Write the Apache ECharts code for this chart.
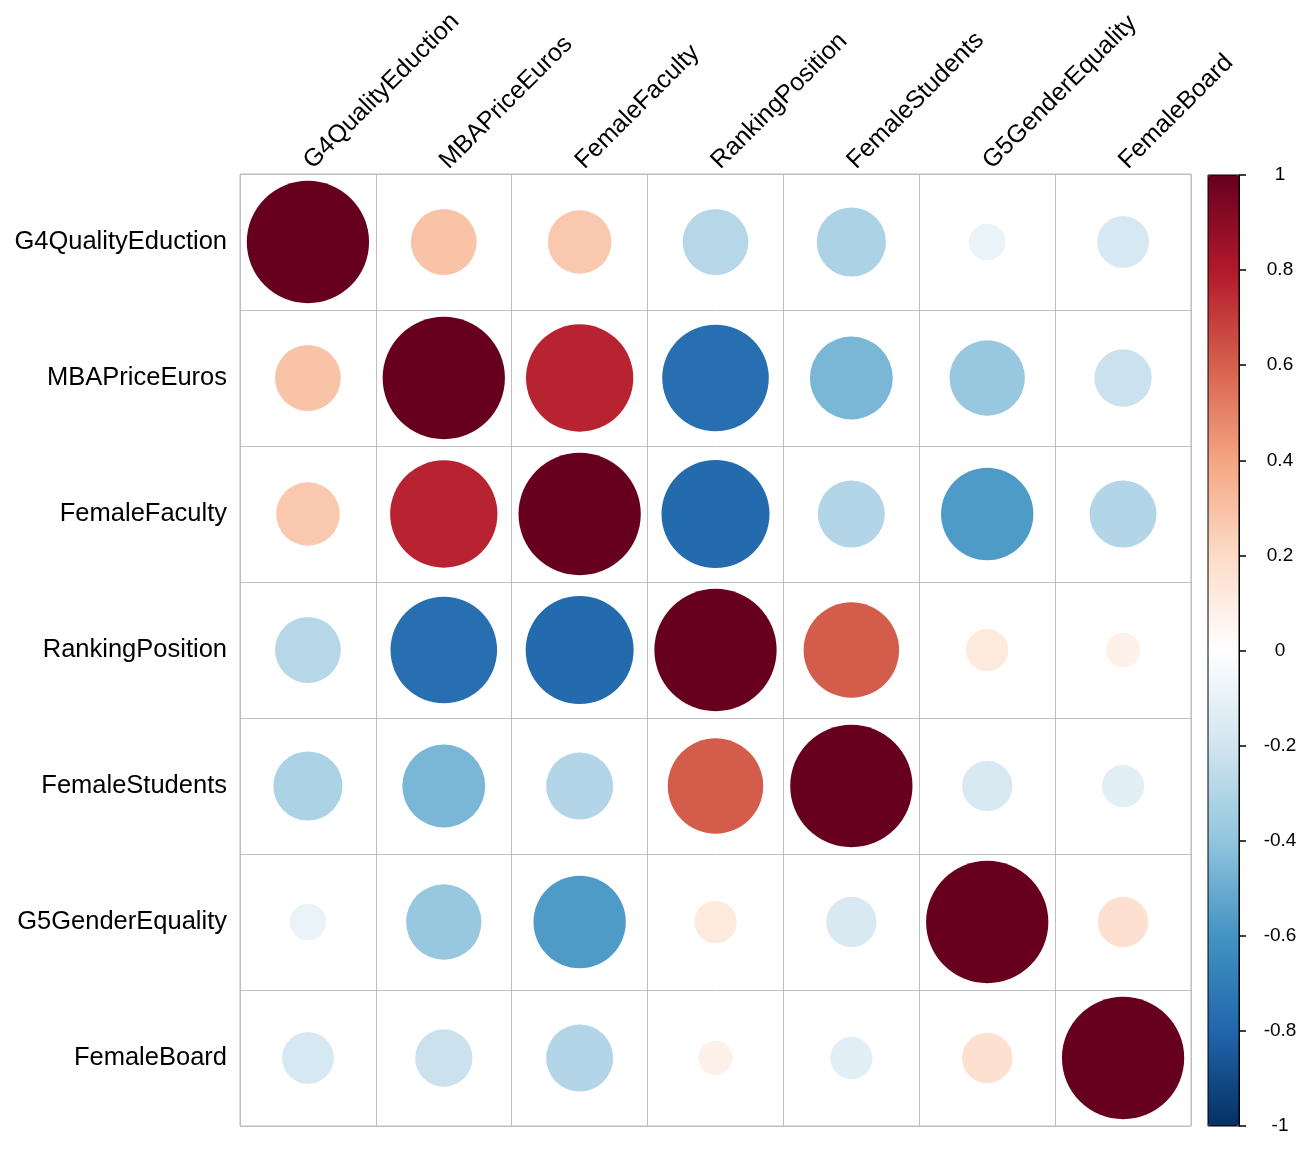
<!DOCTYPE html>
<html>
<head>
<meta charset="utf-8">
<title>Correlation matrix</title>
<script src="https://cdn.jsdelivr.net/npm/echarts@6/dist/echarts.min.js"></script>
<style>
  html, body { margin: 0; padding: 0; background: #fff; }
  #chart { width: 1312px; height: 1164px; }
</style>
</head>
<body>
<div id="chart"></div>
<script>
// Variable names, same order on both axes
const variables = ['G4QualityEduction', 'MBAPriceEuros', 'FemaleFaculty', 'RankingPosition',
  'FemaleStudents', 'G5GenderEquality', 'FemaleBoard'];

// Correlation rows
const rowG4QualityEduction = [1, 0.29, 0.27, -0.29, -0.32, -0.09, -0.18];
const rowMBAPriceEuros     = [0.29, 1, 0.77, -0.76, -0.46, -0.38, -0.22];
const rowFemaleFaculty     = [0.27, 0.77, 1, -0.78, -0.30, -0.57, -0.30];
const rowRankingPosition   = [-0.29, -0.76, -0.78, 1, 0.61, 0.12, 0.08];
const rowFemaleStudents    = [-0.32, -0.46, -0.30, 0.61, 1, -0.17, -0.12];
const rowG5GenderEquality  = [-0.09, -0.38, -0.57, 0.12, -0.17, 1, 0.17];
const rowFemaleBoard       = [-0.18, -0.22, -0.30, 0.08, -0.12, 0.17, 1];

// Colour bar range and step
const scaleMin = -1;
const scaleMax = 1;
const scaleStep = 0.2;

// RdBu palette, -1 -> 1
const palette = ['#053061', '#2166AC', '#4393C3', '#92C5DE', '#D1E5F0', '#FFFFFF',
  '#FDDBC7', '#F4A582', '#D6604D', '#B2182B', '#67001F'];

const rows = [rowG4QualityEduction, rowMBAPriceEuros, rowFemaleFaculty, rowRankingPosition,
  rowFemaleStudents, rowG5GenderEquality, rowFemaleBoard];

const cells = [];
rows.forEach((row, y) => row.forEach((v, x) => cells.push([x, y, v])));

const FONT = '"Liberation Sans", Arial, sans-serif';
const gridLeft = 240, gridTop = 174, gridW = 951, gridH = 952;
const cellSize = gridW / variables.length;

const chart = echarts.init(document.getElementById('chart'), null, { renderer: 'canvas' });

chart.setOption({
  backgroundColor: '#ffffff',
  animation: false,
  grid: [
    {
      left: gridLeft, top: gridTop, width: gridW, height: gridH,
      show: true, borderColor: '#BEBEBE', borderWidth: 1, backgroundColor: 'transparent'
    },
    {
      // colour bar frame + its tick axis
      left: 1208, top: 175, width: 31, height: 951,
      show: true, borderColor: '#000', borderWidth: 1, backgroundColor: 'transparent', z: 10
    }
  ],
  xAxis: [
    {
      type: 'category',
      gridIndex: 0,
      position: 'top',
      data: variables,
      axisLine: { show: false },
      axisTick: { show: false },
      splitLine: { show: true, lineStyle: { color: '#BEBEBE', width: 1 } },
      axisLabel: { rotate: -45, margin: 9, color: '#000', fontSize: 25, fontFamily: FONT, interval: 0 }
    },
    {
      type: 'value', gridIndex: 1, show: false, min: 0, max: 1
    }
  ],
  yAxis: [
    {
      type: 'category',
      gridIndex: 0,
      inverse: true,
      data: variables,
      axisLine: { show: false },
      axisTick: { show: false },
      splitLine: { show: true, lineStyle: { color: '#BEBEBE', width: 1 } },
      axisLabel: { margin: 13, color: '#000', fontSize: 25.5, fontFamily: FONT, interval: 0 }
    },
    {
      type: 'value',
      gridIndex: 1,
      position: 'right',
      min: scaleMin,
      max: scaleMax,
      interval: scaleStep,
      z: 12,
      axisLine: { show: true, onZero: false, lineStyle: { color: '#000', width: 1 } },
      splitLine: { show: false },
      axisTick: { show: true, inside: false, length: 7, lineStyle: { color: '#000', width: 1.5 } },
      axisLabel: { margin: 41, align: 'center', color: '#000', fontSize: 19, fontFamily: FONT }
    }
  ],
  visualMap: {
    type: 'continuous',
    seriesIndex: 0,
    dimension: 2,
    min: scaleMin,
    max: scaleMax,
    calculable: false,
    hoverLink: false,
    orient: 'vertical',
    left: 1208,
    top: 175,
    padding: 0,
    itemWidth: 31,
    itemHeight: 951,
    text: null,
    inRange: { color: palette }
  },
  series: [
    {
      type: 'scatter',
      xAxisIndex: 0,
      yAxisIndex: 0,
      data: cells,
      symbol: 'circle',
      // circle area proportional to |r|, full cell = 90 % width
      symbolSize: d => cellSize * 0.9 * Math.sqrt(Math.abs(d[2])),
      itemStyle: { opacity: 1 },
      silent: true
    }
  ]
});
</script>
</body>
</html>
